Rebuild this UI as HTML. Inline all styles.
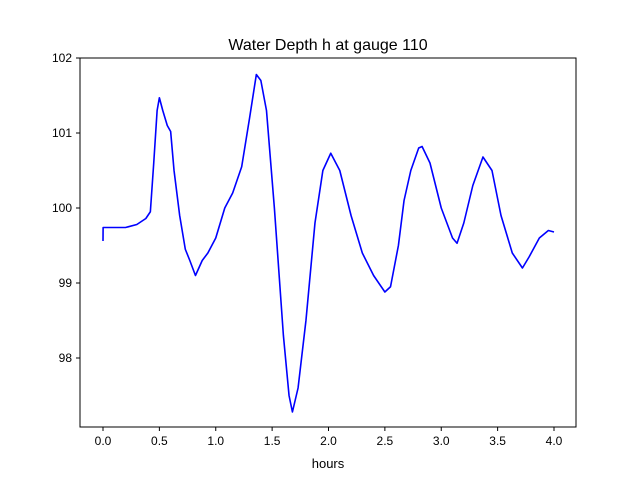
<!DOCTYPE html>
<html><head><meta charset="utf-8"><style>
body{margin:0;background:#fff;font-family:"Liberation Sans",sans-serif}
text{font-family:"Liberation Sans",sans-serif}
</style></head><body>
<svg id="chart" width="640" height="480" xmlns="http://www.w3.org/2000/svg">
<rect width="640" height="480" fill="#fff"/>
<text x="328" y="50" font-size="16" text-anchor="middle">Water Depth h at gauge 110</text>
<g id="plot"></g>
<rect x="80" y="58" width="496" height="369" fill="none" stroke="#000" stroke-width="1"/>
<text x="328" y="468" font-size="13" text-anchor="middle">hours</text>
</svg>
<script>
const hours=[0,0.001,0.1,0.2,0.3,0.38,0.42,0.45,0.48,0.5,0.53,0.57,0.6,0.63,0.68,0.73,0.77,0.82,0.88,0.93,1.0,1.08,1.15,1.23,1.3,1.36,1.4,1.45,1.52,1.6,1.65,1.68,1.73,1.8,1.88,1.95,2.02,2.1,2.2,2.3,2.4,2.5,2.55,2.62,2.67,2.73,2.8,2.83,2.9,3.0,3.1,3.14,3.2,3.28,3.37,3.45,3.53,3.63,3.72,3.78,3.87,3.95,4.0];
const depth=[99.56,99.74,99.74,99.74,99.78,99.86,99.95,100.6,101.3,101.47,101.3,101.1,101.02,100.5,99.9,99.45,99.3,99.1,99.3,99.4,99.6,100.0,100.2,100.55,101.2,101.78,101.7,101.3,100.0,98.3,97.5,97.28,97.6,98.5,99.8,100.5,100.73,100.5,99.9,99.4,99.1,98.88,98.95,99.5,100.1,100.5,100.8,100.82,100.6,100.0,99.6,99.53,99.8,100.3,100.68,100.5,99.9,99.4,99.2,99.35,99.6,99.7,99.68];
const xTicks=[0,0.5,1,1.5,2,2.5,3,3.5,4];
const xTickLabels=["0.0","0.5","1.0","1.5","2.0","2.5","3.0","3.5","4.0"];
const yTicks=[98,99,100,101,102];
const yTickLabels=["98","99","100","101","102"];
const sx=v=>103+v*112.75, sy=v=>58+(102-v)*75;
const ns="http://www.w3.org/2000/svg", g=document.getElementById('plot');
function mk(t,a){const e=document.createElementNS(ns,t);for(const k in a)e.setAttribute(k,a[k]);g.appendChild(e);return e;}
xTicks.forEach((v,i)=>{
 const l=mk('line',{x1:sx(v),x2:sx(v),y1:427,y2:431,stroke:'#000'});
 
 
 const t=mk('text',{x:sx(v),y:445,'font-size':'12','text-anchor':'middle'});
 
 
 t.textContent=xTickLabels[i];
});
yTicks.forEach((v,i)=>{
 const l=mk('line',{x1:76,x2:80,y1:sy(v),y2:sy(v),stroke:'#000'});
 
 
 const t=mk('text',{x:72,y:sy(v)+4,'font-size':'12','text-anchor':'end'});
 
 
 t.textContent=yTickLabels[i];
});
const p=mk('polyline',{points:hours.map((h,i)=>sx(h)+','+sy(depth[i])).join(' '),fill:'none',stroke:'#0000ff','stroke-width':'1.6','stroke-linejoin':'round'});


</script>
</body></html>
